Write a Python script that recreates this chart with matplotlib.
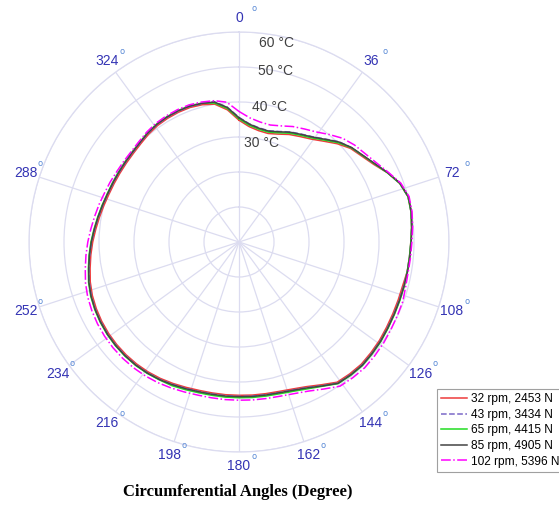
import numpy as np
import matplotlib.pyplot as plt

## DATA
# circumferential angle (deg, clockwise from top) and temperature (degC)
angles = list(range(0, 360, 5))

t_32 = [34.8, 33.1, 32.3, 32.1, 32.8, 33.9, 34.8, 35.9, 37.6, 39.7, 41.6, 42.8, 44.4, 46.8, 48.9, 50.0, 49.9, 49.5,
        49.1, 48.9, 48.8, 48.4, 48.4, 48.5, 48.7, 49.0, 49.2, 49.4, 49.2, 48.9, 47.1, 45.6, 44.7, 44.2, 44.0, 43.9,
        43.8, 43.8, 43.8, 43.9, 44.2, 44.6, 45.0, 45.3, 45.5, 45.6, 45.6, 45.5, 45.3, 45.0, 44.6, 44.0, 43.2, 42.5,
        41.8, 41.1, 40.5, 40.0, 39.6, 39.4, 39.3, 39.3, 39.4, 39.7, 40.2, 40.6, 40.8, 40.9, 40.9, 40.6, 40.0, 37.9]
t_43 = [35.6, 33.9, 33.1, 32.9, 33.6, 34.7, 35.6, 36.7, 38.4, 40.5, 41.9, 43.1, 44.7, 46.8, 48.9, 50.0, 49.9, 49.5,
        49.1, 48.9, 48.8, 48.7, 48.7, 48.8, 49.0, 49.3, 49.5, 49.7, 49.5, 49.2, 47.4, 45.9, 45.0, 44.5, 44.3, 44.2,
        44.1, 44.1, 44.1, 44.2, 44.5, 44.9, 45.3, 45.6, 45.8, 45.9, 45.9, 45.8, 45.6, 45.3, 44.9, 44.3, 43.5, 42.8,
        42.1, 41.4, 40.8, 40.3, 39.9, 39.7, 39.6, 39.6, 39.7, 40.0, 40.5, 40.9, 41.1, 41.2, 41.2, 40.9, 40.7, 38.7]
t_65 = [35.2, 33.5, 32.7, 32.5, 33.2, 34.3, 35.2, 36.3, 38.0, 40.1, 41.9, 43.1, 44.7, 46.8, 48.9, 50.0, 49.9, 49.5,
        49.1, 48.9, 48.8, 48.9, 48.9, 49.0, 49.2, 49.5, 49.7, 49.9, 49.7, 49.4, 47.6, 46.3, 45.4, 44.9, 44.7, 44.6,
        44.5, 44.5, 44.5, 44.6, 44.9, 45.3, 45.5, 45.8, 46.0, 46.1, 46.1, 46.0, 45.8, 45.5, 45.1, 44.5, 43.7, 43.0,
        42.3, 41.6, 41.0, 40.5, 40.1, 39.9, 39.8, 39.8, 39.9, 40.2, 40.7, 41.1, 41.3, 41.4, 41.4, 41.1, 40.3, 38.3]
t_85 = [35.5, 33.8, 33.0, 32.8, 33.5, 34.6, 35.5, 36.6, 38.3, 40.4, 42.0, 43.2, 44.8, 46.9, 49.0, 50.1, 50.0, 49.6,
        49.2, 49.0, 48.9, 48.8, 48.8, 48.9, 49.1, 49.4, 49.6, 49.8, 49.6, 49.3, 47.5, 46.0, 45.1, 44.6, 44.4, 44.3,
        44.2, 44.2, 44.2, 44.3, 44.6, 45.0, 45.4, 45.7, 45.9, 46.0, 46.0, 45.9, 45.7, 45.4, 45.0, 44.4, 43.6, 42.9,
        42.2, 41.5, 40.9, 40.4, 40.0, 39.8, 39.7, 39.7, 39.8, 40.1, 40.6, 41.0, 41.2, 41.3, 41.3, 41.0, 40.6, 38.6]
t_102 = [37.3, 35.6, 34.8, 34.6, 35.3, 36.4, 37.3, 38.4, 40.1, 41.9, 43.1, 44.0, 45.3, 47.1, 49.2, 50.3, 50.2, 49.8,
         49.4, 49.2, 49.1, 49.3, 49.8, 49.9, 50.1, 50.4, 50.6, 50.8, 50.6, 50.3, 48.5, 47.0, 46.1, 45.6, 45.4, 45.3,
         45.2, 45.2, 45.2, 45.3, 45.6, 46.0, 46.4, 46.7, 46.9, 47.0, 47.0, 46.9, 46.7, 46.4, 46.0, 45.4, 44.6, 43.9,
         43.2, 42.5, 41.9, 41.4, 40.9, 40.6, 40.3, 40.2, 40.2, 40.5, 41.0, 41.4, 41.6, 41.7, 41.7, 41.4, 41.0, 40.1]

labels = ["32 rpm, 2453 N", "43 rpm, 3434 N", "65 rpm, 4415 N", "85 rpm, 4905 N", "102 rpm, 5396 N"]

tick_angles = [0, 36, 72, 108, 126, 144, 162, 180, 198, 216, 234, 252, 288, 324]
r_ticks = [10, 20, 30, 40, 50, 60]
r_labels = ["30 \u00b0C", "40 \u00b0C", "50 \u00b0C", "60 \u00b0C"]

## STYLES
series = [t_32, t_43, t_65, t_85, t_102]
colors = ["#ee3b3b", "#7b68c8", "#22dd22", "#444444", "#ff00ff"]
styles = ["-", "--", "-", "-", "-."]
grid_col = "#dcdcf0"

fig = plt.figure(figsize=(5.59, 5.05), dpi=100)
ax = fig.add_axes([29 / 559, 53 / 505, 420 / 559, 420 / 505], projection="polar")
ax.set_theta_zero_location("N")
ax.set_theta_direction(-1)
ax.set_ylim(0, 60)

theta = np.deg2rad(angles + [angles[0]])
for vals, col, ls, lab in zip(series, colors, styles, labels):
    ax.plot(theta, vals + [vals[0]], color=col, linestyle=ls, linewidth=1.1, label=lab)

ax.set_thetagrids(tick_angles, labels=[""] * len(tick_angles))
ax.set_rticks(r_ticks)
ax.set_yticklabels([])
ax.grid(True, color=grid_col, linewidth=0.9)
ax.spines["polar"].set_color(grid_col)
ax.spines["polar"].set_linewidth(0.9)

# angle labels: dark blue number with a small light-blue "o"
for a in tick_angles:
    t = np.deg2rad(a)
    ax.text(t, 64, str(a), ha="center", va="center", fontsize=10,
            color="#3434b4", family="Liberation Sans", clip_on=False)
    ax.annotate("o", xy=(t, 64), xytext=(10.5, 7), textcoords="offset points",
                ha="center", va="center", fontsize=6, color="#5a8ad6",
                annotation_clip=False)

# radial temperature labels
r_pos = [(13.0, 29.0), (12.9, 39.6), (11.9, 49.9), (10.8, 57.9)]
for (a, r), txt in zip(r_pos, r_labels):
    ax.text(np.deg2rad(a), r, txt, ha="center", va="center", fontsize=10,
            color="#404040", family="Liberation Sans")

fig.text(238 / 559, 1 - 492 / 505, "Circumferential Angles (Degree)", ha="center", va="center",
         fontsize=12, fontweight="bold", family="Liberation Serif")

leg = ax.legend(loc="upper left", bbox_to_anchor=(437 / 559, 1 - 389 / 505),
                bbox_transform=fig.transFigure, prop={"family": "Liberation Sans", "size": 8.6},
                frameon=True, fancybox=False, handlelength=2.2, handletextpad=0.3,
                labelspacing=0.3, borderpad=0.35, borderaxespad=0)
leg.get_frame().set_edgecolor("#888888")
leg.get_frame().set_linewidth(0.8)

fig.savefig("out.png", dpi=100)
